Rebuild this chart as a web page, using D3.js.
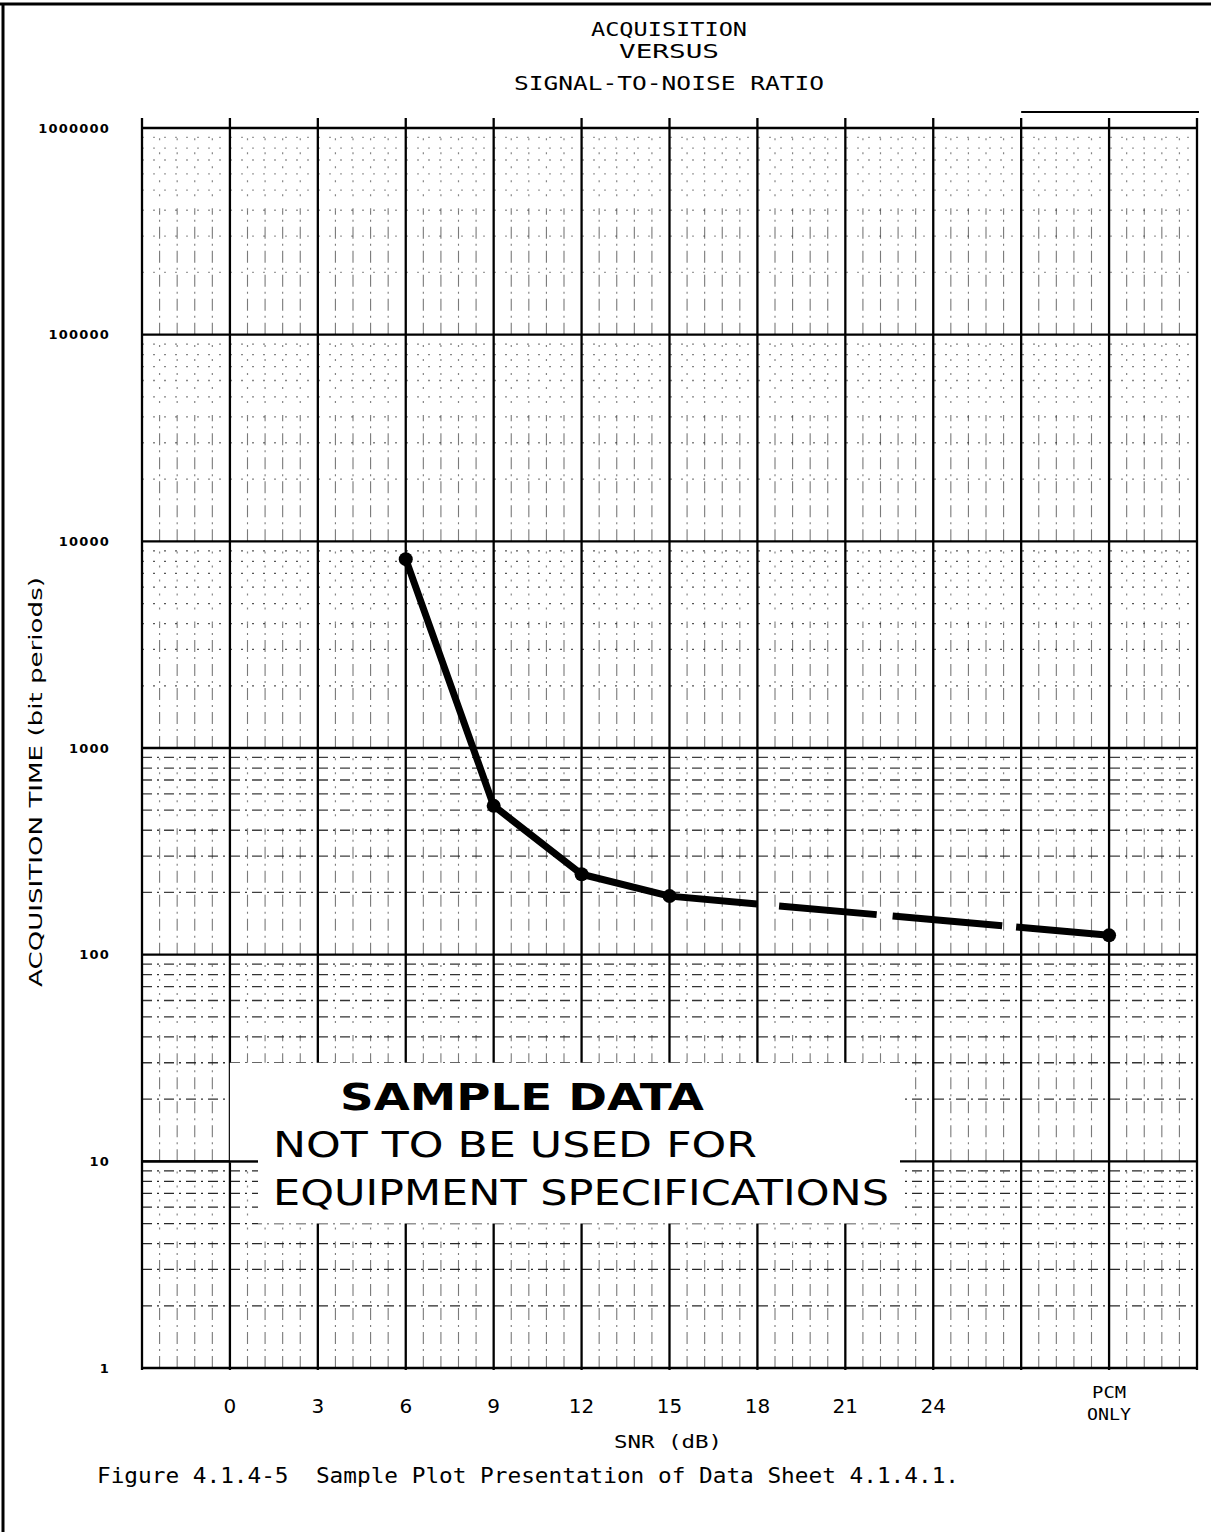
<!DOCTYPE html>
<html>
<head>
<meta charset="utf-8">
<script src="https://cdn.jsdelivr.net/npm/d3@7"></script>
<style>
  html, body { margin: 0; padding: 0; background: #fff; }
  svg { display: block; }
  text { white-space: pre; }
</style>
</head>
<body>
<svg id="chart" width="1211" height="1532"></svg>
<script>
// ---------- data ----------
const titleLines = ["ACQUISITION", "VERSUS", "SIGNAL-TO-NOISE RATIO"];
const xSlots = ["L", "0", "3", "6", "9", "12", "15", "18", "21", "24", "blank", "PCM ONLY", "R"];
const xTickLabels = ["0", "3", "6", "9", "12", "15", "18", "21", "24"];
const pcmLabel = ["PCM", "ONLY"];
const yTickValues = [1, 10, 100, 1000, 10000, 100000, 1000000];
const yTickLabels = ["1", "10", "100", "1000", "10000", "100000", "1000000"];
const solidSNR = ["6", "9", "12", "15"];
const solidTime = [8200, 525, 245, 192];
const dashedSNR = ["15", "PCM ONLY"];
const dashedTime = [192, 124];
const xTitle = "SNR (dB)";
const yTitle = "ACQUISITION TIME (bit periods)";
const caption = "Figure 4.1.4-5  Sample Plot Presentation of Data Sheet 4.1.4.1.";
const stampLines = ["SAMPLE DATA", "NOT TO BE USED FOR", "EQUIPMENT SPECIFICATIONS"];

(function () {
const svg = d3.select("#chart");
const pL = 142, pR = 1197, pT = 128, pB = 1368;

const x = d3.scalePoint().domain(xSlots).range([pL, pR]).padding(0);
const y = d3.scaleLog().domain([1, 1e6]).range([pB, pT]);
const step = x.step();

// page border
svg.append("line").attr("x1", 0).attr("x2", 1211).attr("y1", 4).attr("y2", 4)
  .attr("stroke", "#000").attr("stroke-width", 3);
svg.append("line").attr("x1", 3).attr("x2", 3).attr("y1", 3).attr("y2", 1532)
  .attr("stroke", "#000").attr("stroke-width", 3);

// ---------- grid ----------
const grid = svg.append("g");
const minorH = [];
for (let d = 0; d < 6; d++) for (let k = 2; k <= 9; k++) minorH.push({ v: k * Math.pow(10, d), d });
const decadeOpacity = [0.9, 0.85, 0.8, 0.7, 0.5, 0.4];
grid.selectAll(".mh").data(minorH).enter().append("line")
  .attr("x1", pL).attr("x2", pR)
  .attr("y1", d => y(d.v)).attr("y2", d => y(d.v))
  .attr("stroke", "#111").attr("stroke-width", 1.3)
  .attr("stroke-dasharray", d => d.d < 3 ? "10,5,2,5" : "2,9")
  .attr("opacity", d => decadeOpacity[d.d]);

// minor vertical segments: dashed in the lower part of each decade, dotted above
const minorV = [];
for (let i = 0; i < xSlots.length - 1; i++)
  for (let j = 1; j <= 4; j++)
    for (let d = 0; d < 6; d++) minorV.push({ xv: x(xSlots[i]) + j * step / 5, d });
grid.selectAll(".mv").data(minorV).enter().append("line")
  .attr("x1", d => d.xv).attr("x2", d => d.xv)
  .attr("y1", d => y(Math.pow(10, d.d))).attr("y2", d => y(4 * Math.pow(10, d.d)))
  .attr("stroke", "#222").attr("stroke-width", 1.1)
  .attr("stroke-dasharray", "12,5,2,5")
  .attr("opacity", 0.6);
grid.selectAll(".mv2").data(minorV).enter().append("line")
  .attr("x1", d => d.xv).attr("x2", d => d.xv)
  .attr("y1", d => y(4 * Math.pow(10, d.d))).attr("y2", d => y(10 * Math.pow(10, d.d)))
  .attr("stroke", "#222").attr("stroke-width", 1.2)
  .attr("stroke-dasharray", "2,12")
  .attr("opacity", 0.55);

grid.selectAll(".MH").data(yTickValues).enter().append("line")
  .attr("x1", pL).attr("x2", pR)
  .attr("y1", d => y(d)).attr("y2", d => y(d))
  .attr("stroke", "#000").attr("stroke-width", 2.3);
grid.selectAll(".MV").data(xSlots).enter().append("line")
  .attr("x1", d => x(d)).attr("x2", d => x(d))
  .attr("y1", pT - 10).attr("y2", pB + 2)
  .attr("stroke", "#000").attr("stroke-width", 2.3);
grid.append("line").attr("x1", x("blank")).attr("x2", pR + 2)
  .attr("y1", pT - 16).attr("y2", pT - 16)
  .attr("stroke", "#000").attr("stroke-width", 2);

// ---------- stamp ----------
const box = [[x("0"), y(30)], [900, y(30)], [900, y(5)], [258, y(5)], [258, y(10) + 1], [x("0"), y(10) + 1]];
svg.append("path").attr("d", d3.line()(box) + "Z").attr("fill", "#fff");
svg.append("line").attr("x1", pL).attr("x2", 258).attr("y1", y(10)).attr("y2", y(10))
  .attr("stroke", "#000").attr("stroke-width", 2.3);

const stamp = svg.append("g").attr("font-family", "'DejaVu Sans', 'Liberation Sans', sans-serif").attr("fill", "#000");
stamp.append("text").attr("x", 340).attr("y", 1110).attr("font-size", 38).attr("font-weight", "bold")
  .attr("textLength", 364).attr("lengthAdjust", "spacingAndGlyphs").text(stampLines[0]);
stamp.append("text").attr("x", 273).attr("y", 1157).attr("font-size", 36)
  .attr("textLength", 484).attr("lengthAdjust", "spacingAndGlyphs").text(stampLines[1]);
stamp.append("text").attr("x", 273).attr("y", 1205).attr("font-size", 36)
  .attr("textLength", 616).attr("lengthAdjust", "spacingAndGlyphs").text(stampLines[2]);

// ---------- data lines ----------
const line = d3.line().x(d => x(d[0])).y(d => y(d[1]));
const solidPts = solidSNR.map((s, i) => [s, solidTime[i]]);
const dashedPts = dashedSNR.map((s, i) => [s, dashedTime[i]]);
svg.append("path").attr("d", line(solidPts)).attr("fill", "none")
  .attr("stroke", "#000").attr("stroke-width", 7).attr("stroke-linejoin", "round");
svg.append("path").attr("d", line(dashedPts)).attr("fill", "none")
  .attr("stroke", "#000").attr("stroke-width", 7)
  .attr("stroke-dasharray", "88,22,98,16,110,14,200");
svg.selectAll(".pt").data(solidPts.concat([dashedPts[1]])).enter().append("circle")
  .attr("cx", d => x(d[0])).attr("cy", d => y(d[1])).attr("r", 7).attr("fill", "#000");

// ---------- axis text ----------
const yAx = svg.append("g").attr("font-family", "'DejaVu Sans', sans-serif").attr("font-size", 13)
  .attr("font-weight", "bold").attr("letter-spacing", 1.2).attr("text-anchor", "end").attr("fill", "#000");
yAx.selectAll("text").data(yTickValues).enter().append("text")
  .attr("x", 110).attr("y", d => y(d)).attr("dy", "0.35em")
  .text((d, i) => yTickLabels[i]);

const xAx = svg.append("g").attr("font-family", "'DejaVu Sans', sans-serif").attr("font-size", 20)
  .attr("text-anchor", "middle").attr("fill", "#000");
xAx.selectAll("text").data(xTickLabels).enter().append("text")
  .attr("x", d => x(d)).attr("y", 1413).text(d => d);

const mono = "'DejaVu Sans Mono', 'Liberation Mono', monospace";
svg.append("g").selectAll("text").data(pcmLabel).enter().append("text")
  .attr("x", x("PCM ONLY")).attr("y", (d, i) => 1398 + i * 22)
  .attr("text-anchor", "middle").attr("font-family", mono).attr("font-size", 16)
  .attr("textLength", (d, i) => i ? 44 : 34).attr("lengthAdjust", "spacingAndGlyphs")
  .text(d => d);

svg.append("text").attr("x", 668).attr("y", 1448).attr("text-anchor", "middle")
  .attr("font-family", mono).attr("font-size", 18)
  .attr("textLength", 108).attr("lengthAdjust", "spacingAndGlyphs").text(xTitle);

svg.append("text").attr("transform", "translate(42,782) rotate(-90)").attr("text-anchor", "middle")
  .attr("font-family", "'DejaVu Sans', sans-serif").attr("font-size", 18)
  .attr("textLength", 410).attr("lengthAdjust", "spacingAndGlyphs").text(yTitle);

const tW = [156, 100, 310];
const tY = [36, 58, 90];
svg.append("g").selectAll("text").data(titleLines).enter().append("text")
  .attr("x", 669).attr("y", (d, i) => tY[i]).attr("text-anchor", "middle")
  .attr("font-family", mono).attr("font-size", 20)
  .attr("textLength", (d, i) => tW[i]).attr("lengthAdjust", "spacingAndGlyphs")
  .text(d => d);

svg.append("text").attr("x", 97).attr("y", 1483)
  .attr("font-family", mono).attr("font-size", 21)
  .attr("textLength", 862).attr("lengthAdjust", "spacingAndGlyphs").text(caption);
})();
</script>
</body>
</html>
